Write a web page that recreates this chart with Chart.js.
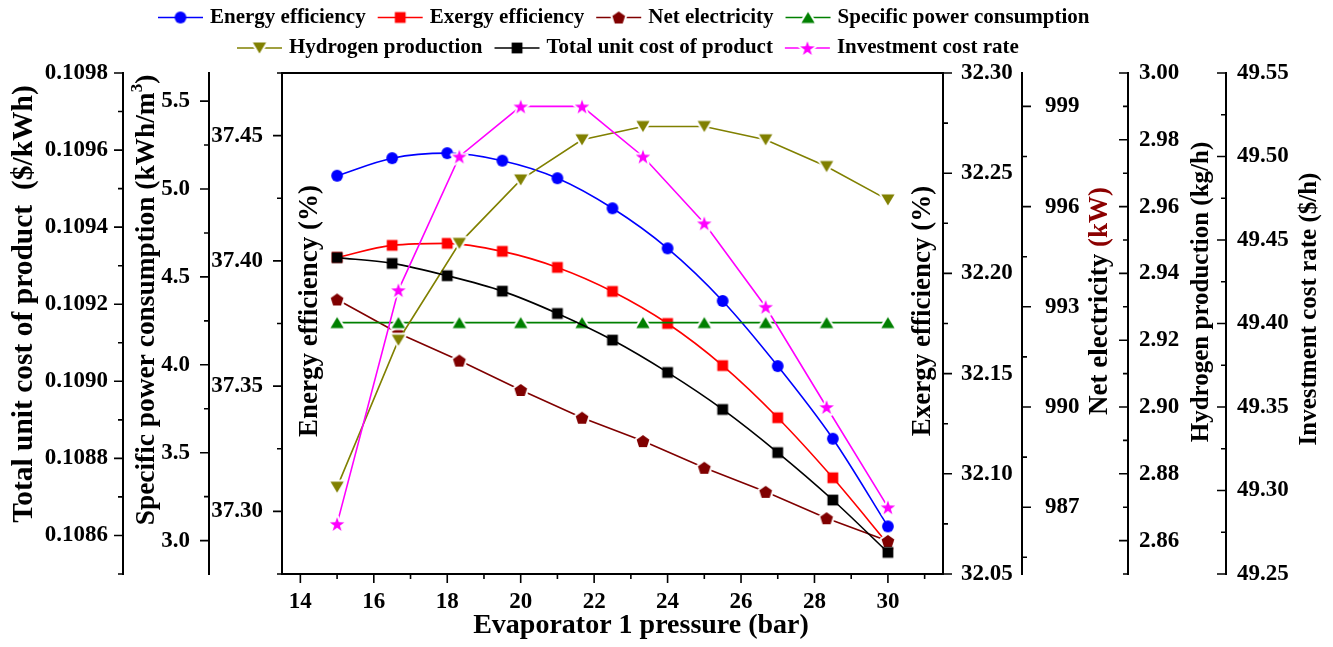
<!DOCTYPE html>
<html>
<head>
<meta charset="utf-8">
<script src="https://cdn.jsdelivr.net/npm/chart.js@4.4.1/dist/chart.umd.min.js"></script>
<style>
  html, body { margin: 0; padding: 0; background: #fff; }
  #chart { display: block; }
</style>
</head>
<body>
<canvas id="chart" width="1333" height="647"></canvas>
<script>
// Evaporator 1 pressure (bar) - the series are sampled on two grids
const pressureA = [15, 16.5, 18, 19.5, 21, 22.5, 24, 25.5, 27, 28.5, 30];
const pressureB = [15, 16.67, 18.33, 20, 21.67, 23.33, 25, 26.67, 28.33, 30];

// series values
const energyEff = [37.434, 37.441, 37.443, 37.440, 37.433, 37.421, 37.405, 37.384, 37.358, 37.329, 37.294];
const exergyEff = [32.208, 32.214, 32.215, 32.211, 32.203, 32.191, 32.175, 32.154, 32.128, 32.098, 32.065];
const totalUnitCost = [0.109321, 0.109306, 0.109274, 0.109234, 0.109176, 0.109107, 0.109023, 0.108927, 0.108815, 0.108692, 0.108556];
const netElectricity = [993.22, 992.21, 991.39, 990.51, 989.68, 988.98, 988.18, 987.46, 986.67, 985.99];
const specificPower = [4.24, 4.24, 4.24, 4.24, 4.24, 4.24, 4.24, 4.24, 4.24, 4.24];
const hydrogenProd = [2.876, 2.920, 2.949, 2.968, 2.980, 2.984, 2.984, 2.980, 2.972, 2.962];
const investmentRate = [49.280, 49.420, 49.500, 49.530, 49.530, 49.500, 49.460, 49.410, 49.350, 49.290];

// tick labels
const pressureTicks = [14, 16, 18, 20, 22, 24, 26, 28, 30];
const costTicks = [0.1086, 0.1088, 0.1090, 0.1092, 0.1094, 0.1096, 0.1098];
const spcTicks = [3.0, 3.5, 4.0, 4.5, 5.0, 5.5];
const energyTicks = [37.30, 37.35, 37.40, 37.45];
const exergyTicks = [32.05, 32.10, 32.15, 32.20, 32.25, 32.30];
const netTicks = [987, 990, 993, 996, 999];
const h2Ticks = [2.86, 2.88, 2.90, 2.92, 2.94, 2.96, 2.98, 3.00];
const invTicks = [49.25, 49.30, 49.35, 49.40, 49.45, 49.50, 49.55];

const FONT = '"Liberation Serif", "Times New Roman", serif';
Chart.defaults.font.family = FONT;
Chart.defaults.color = '#000';

// Origin-like filled symbols (optional white halo = gap in the line)
function makeMarker(shape, color, halo) {
  const size = 20;
  const c = document.createElement('canvas');
  c.width = size; c.height = size;
  const g = c.getContext('2d');
  const m = size / 2;
  g.beginPath();
  if (shape === 'circle') {
    g.arc(m, m, 5.9, 0, Math.PI * 2);
  } else if (shape === 'square') {
    g.rect(m - 5.4, m - 5.4, 10.8, 10.8);
  } else if (shape === 'up') {
    g.moveTo(m, m - 5.6); g.lineTo(m + 6.6, m + 5.6); g.lineTo(m - 6.6, m + 5.6); g.closePath();
  } else if (shape === 'down') {
    g.moveTo(m, m + 5.6); g.lineTo(m + 6.6, m - 5.6); g.lineTo(m - 6.6, m - 5.6); g.closePath();
  } else if (shape === 'pentagon') {
    for (let k = 0; k < 5; k++) {
      const ang = -Math.PI / 2 + k * 2 * Math.PI / 5;
      const px = m + 6.7 * Math.cos(ang), py = m + 0.6 + 6.7 * Math.sin(ang);
      k ? g.lineTo(px, py) : g.moveTo(px, py);
    }
    g.closePath();
  } else if (shape === 'star') {
    for (let k = 0; k < 10; k++) {
      const r = k % 2 ? 3.0 : 7.6;
      const ang = -Math.PI / 2 + k * Math.PI / 5;
      const px = m + r * Math.cos(ang), py = m + 0.8 + r * Math.sin(ang);
      k ? g.lineTo(px, py) : g.moveTo(px, py);
    }
    g.closePath();
  }
  if (halo) {
    g.lineWidth = 4; g.lineJoin = 'round'; g.strokeStyle = '#fff'; g.stroke();
  }
  g.fillStyle = color;
  g.fill();
  return c;
}

const legendItems = [
  { label: 'Energy efficiency', color: '#0000ff', marker: makeMarker('circle', '#0000ff', false) },
  { label: 'Exergy efficiency', color: '#ff0000', marker: makeMarker('square', '#ff0000', false) },
  { label: 'Net electricity', color: '#800000', marker: makeMarker('pentagon', '#800000', true) },
  { label: 'Specific power consumption', color: '#008000', marker: makeMarker('up', '#008000', true) },
  { label: 'Hydrogen production', color: '#808000', marker: makeMarker('down', '#808000', true) },
  { label: 'Total unit cost of product', color: '#000000', marker: makeMarker('square', '#000000', false) },
  { label: 'Investment cost rate', color: '#ff00ff', marker: makeMarker('star', '#ff00ff', true) }
];

function series(idx, xs, ys, axis, smooth) {
  const it = legendItems[idx];
  return {
    label: it.label,
    data: xs.map((x, i) => ({ x: x, y: ys[i] })),
    yAxisID: axis,
    borderColor: it.color,
    backgroundColor: it.color,
    borderWidth: 1.6,
    tension: smooth ? 0.4 : 0,
    cubicInterpolationMode: smooth ? 'monotone' : 'default',
    pointStyle: it.marker,
    pointRadius: 6,
    pointHoverRadius: 6,
    order: 6 - idx
  };
}

const tickFont = { family: FONT, size: 23, weight: 'bold' };

function yAxis(position, weight, min, max, ticksArr, decimals, width, padding) {
  return {
    type: 'linear',
    position: position,
    weight: weight,
    min: min,
    max: max,
    grid: { display: false, drawTicks: false, tickLength: 0 },
    border: { display: true, color: '#000', width: 2 },
    ticks: {
      font: tickFont,
      color: '#000',
      padding: padding,
      autoSkip: false,
      callback: (v) => Number(v).toFixed(decimals)
    },
    afterBuildTicks: (s) => { s.ticks = ticksArr.map(v => ({ value: v })); },
    afterFit: (s) => { s.width = width; }
  };
}

// tick marks (major + minor), drawn on the library scales
const tickMarks = {
  x: { major: pressureTicks, dir: 'down' },
  yCost: { major: costTicks, dir: 'left' },
  ySpc: { major: spcTicks, dir: 'left' },
  yEnergy: { major: energyTicks, dir: 'left' },
  yExergy: { major: exergyTicks, dir: 'right' },
  yNet: { major: netTicks, dir: 'right' },
  yH2: { major: h2Ticks, dir: 'left' },
  yInv: { major: invTicks, dir: 'left' }
};

function vText(ctx, x, y, parts, size) {
  ctx.save();
  ctx.translate(x, y);
  ctx.rotate(-Math.PI / 2);
  ctx.textBaseline = 'middle';
  ctx.textAlign = 'left';
  let total = 0;
  const widths = parts.map(p => {
    ctx.font = 'bold ' + (p.sup ? Math.round(size * 0.62) : size) + 'px ' + FONT;
    const w = ctx.measureText(p.t).width;
    total += w;
    return w;
  });
  let u = -total / 2;
  parts.forEach((p, i) => {
    ctx.font = 'bold ' + (p.sup ? Math.round(size * 0.62) : size) + 'px ' + FONT;
    ctx.fillStyle = p.color || '#000';
    ctx.fillText(p.t, u, p.sup ? -size * 0.34 : 0);
    u += widths[i];
  });
  ctx.restore();
}

const decor = {
  id: 'decor',
  afterDraw(chart) {
    const { ctx, chartArea: a, scales } = chart;
    ctx.save();
    ctx.strokeStyle = '#000';
    ctx.lineWidth = 2;
    ctx.beginPath();
    ctx.moveTo(a.left - 1, a.top);
    ctx.lineTo(a.right + 1, a.top);
    ctx.stroke();

    ctx.lineWidth = 1.6;
    Object.keys(tickMarks).forEach(id => {
      const s = scales[id];
      const spec = tickMarks[id];
      const step = spec.major[1] - spec.major[0];
      const vals = spec.major.map(v => [v, 9]);
      for (let i = -1; i < spec.major.length; i++) {
        const v = spec.major[0] + (i + 0.5) * step;
        if (v >= s.min - 1e-9 && v <= s.max + 1e-9) vals.push([v, 5]);
      }
      ctx.beginPath();
      vals.forEach(([v, len]) => {
        const p = s.getPixelForValue(v);
        if (spec.dir === 'down') {
          ctx.moveTo(p, s.top); ctx.lineTo(p, s.top + len);
        } else {
          const x0 = s.position === 'left' ? s.right : s.left;
          const d = spec.dir === 'left' ? -len : len;
          ctx.moveTo(x0, p); ctx.lineTo(x0 + d, p);
        }
      });
      ctx.stroke();
    });

    // axis titles
    vText(ctx, scales.yCost.left + 24, 304, [{ t: 'Total unit cost of product  ($/kWh)' }], 29.5);
    vText(ctx, scales.ySpc.left + 24, 300, [{ t: 'Specific power consumption (kWh/m' }, { t: '3', sup: true }, { t: ')' }], 27.4);
    vText(ctx, a.left + 28, 311, [{ t: 'Energy efficiency (%)' }], 27);
    vText(ctx, a.right - 20, 311, [{ t: 'Exergy efficiency (%)' }], 27);
    vText(ctx, scales.yNet.left + 78, 301, [{ t: 'Net electricity ' }, { t: '(kW)', color: '#8b0000' }], 27);
    vText(ctx, scales.yH2.left + 74, 292, [{ t: 'Hydrogen production (kg/h)' }], 25);
    vText(ctx, scales.yInv.left + 84, 309, [{ t: 'Investment cost rate ($/h)' }], 25);

    ctx.font = 'bold 28px ' + FONT;
    ctx.fillStyle = '#000';
    ctx.textAlign = 'center';
    ctx.textBaseline = 'middle';
    ctx.fillText('Evaporator 1 pressure (bar)', 641, 626);

    // legend: two rows of line-symbol-line + label
    const rows = [
      { x: 158, y: 17.5, items: [0, 1, 2, 3] },
      { x: 237, y: 48, items: [4, 5, 6] }
    ];
    ctx.font = 'bold 21px ' + FONT;
    ctx.textAlign = 'left';
    rows.forEach(row => {
      let x = row.x;
      row.items.forEach(i => {
        const it = legendItems[i];
        ctx.strokeStyle = it.color;
        ctx.lineWidth = 1.6;
        ctx.beginPath();
        ctx.moveTo(x, row.y);
        ctx.lineTo(x + 45, row.y);
        ctx.stroke();
        ctx.drawImage(it.marker, x + 22.5 - it.marker.width / 2, row.y - it.marker.height / 2);
        ctx.fillStyle = '#000';
        ctx.fillText(it.label, x + 52, row.y);
        x += 52 + ctx.measureText(it.label).width + 12;
      });
    });
    ctx.restore();
  }
};

new Chart(document.getElementById('chart'), {
  type: 'line',
  data: {
    datasets: [
      series(0, pressureA, energyEff, 'yEnergy', true),
      series(1, pressureA, exergyEff, 'yExergy', true),
      series(2, pressureB, netElectricity, 'yNet', false),
      series(3, pressureB, specificPower, 'ySpc', false),
      series(4, pressureB, hydrogenProd, 'yH2', false),
      series(5, pressureA, totalUnitCost, 'yCost', true),
      series(6, pressureB, investmentRate, 'yInv', false)
    ]
  },
  options: {
    responsive: false,
    animation: false,
    devicePixelRatio: 1,
    layout: { padding: { top: 73, left: 0, right: 0, bottom: 0 } },
    plugins: {
      legend: { display: false },
      tooltip: { enabled: false }
    },
    scales: {
      x: {
        type: 'linear',
        position: 'bottom',
        min: 13.5,
        max: 31.5,
        grid: { display: false, drawTicks: false, tickLength: 0 },
        border: { display: true, color: '#000', width: 2 },
        ticks: { font: tickFont, color: '#000', padding: 14, autoSkip: false, maxRotation: 0 },
        afterBuildTicks: (s) => { s.ticks = pressureTicks.map(v => ({ value: v })); },
        afterFit: (s) => { s.height = 73; }
      },
      yCost: yAxis('left', 3, 0.1085, 0.1098, costTicks, 4, 123, 15),
      ySpc: yAxis('left', 2, 2.81, 5.66, spcTicks, 1, 86, 19),
      yEnergy: yAxis('left', 1, 37.275, 37.475, energyTicks, 2, 73, 19),
      yExergy: yAxis('right', 1, 32.05, 32.30, exergyTicks, 2, 79, 18),
      yNet: yAxis('right', 2, 985, 1000, netTicks, 0, 106, 23),
      yH2: yAxis('right', 3, 2.85, 3.00, h2Ticks, 2, 98, 11),
      yInv: yAxis('right', 4, 49.25, 49.55, invTicks, 2, 107, 11)
    }
  },
  plugins: [decor]
});
</script>
</body>
</html>
